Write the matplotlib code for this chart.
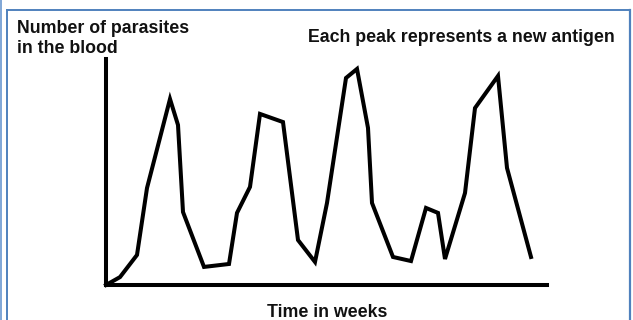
import matplotlib
matplotlib.use("Agg")
import matplotlib.pyplot as plt
from matplotlib.lines import Line2D

# Data (time in weeks, relative parasite count)
weeks = [0, 1.4, 3.1, 4.1, 6.4, 7.2, 7.7, 9.8, 12.3, 13.1, 14.4, 15.4, 17.7, 19.2,
         20.9, 22.1, 24.0, 25.1, 26.2, 26.6, 28.7, 30.5, 32.0, 33.2, 33.9, 35.9,
         36.9, 39.2, 40.1, 42.5]
parasites = [0, 3.5, 13.3, 42.9, 82.3, 70.8, 32.3, 8.0, 9.3, 31.9, 43.4, 75.7, 72.1,
             19.9, 10.2, 36.3, 91.6, 95.6, 69.5, 36.3, 12.4, 10.6, 34.1, 31.9, 11.5,
             40.7, 78.3, 92.5, 51.8, 12.4]
y_label = "Number of parasites\nin the blood"
x_label = "Time in weeks"
note = "Each peak represents a new antigen"

W, H = 633, 320
fig = plt.figure(figsize=(W / 100, H / 100), dpi=100)
fig.patch.set_facecolor("white")

def fx(px):
    return px / W

def fy(py):
    return 1 - py / H

ax = fig.add_axes([fx(106), fy(285), (547 - 106) / W, (285 - 59) / H])
ax.plot(weeks, parasites, color="black", lw=2.9, solid_joinstyle="miter",
        clip_on=False)
ax.set_xlim(0, 44.1)
ax.set_ylim(0, 100)
for s in ["top", "right"]:
    ax.spines[s].set_visible(False)
for s in ["left", "bottom"]:
    ax.spines[s].set_linewidth(2.9)
    ax.spines[s].set_color("black")
    ax.spines[s].set_capstyle("projecting")
ax.set_xticks([])
ax.set_yticks([])
ax.patch.set_alpha(0)

font = ["Liberation Sans", "DejaVu Sans"]
fs = 12.8
fig.text(fx(17), fy(53), y_label, family=font, fontweight="bold", fontsize=fs,
         color="#111111", ha="left", va="baseline", linespacing=1.22)
fig.text(fx(615), fy(42), note, family=font, fontweight="bold", fontsize=fs,
         color="#111111", ha="right", va="baseline")
fig.text(fx(327), fy(317), x_label, family=font, fontweight="bold", fontsize=fs,
         color="#111111", ha="center", va="baseline")

# frame decoration
bc = "#4F81BD"
lc = "#7FA6D6"
fig.add_artist(Line2D([fx(1), fx(1)], [0, 1], color=lc, lw=1.4))
fig.add_artist(Line2D([fx(7), fx(7)], [0, fy(9.5)], color=bc, lw=1.4))
fig.add_artist(Line2D([fx(7), fx(630)], [fy(9.5), fy(9.5)], color=bc, lw=1.4))
fig.add_artist(Line2D([fx(630), fx(630)], [fy(9.5), 0], color=bc, lw=1.6))

fig.savefig("out.png", dpi=100)
